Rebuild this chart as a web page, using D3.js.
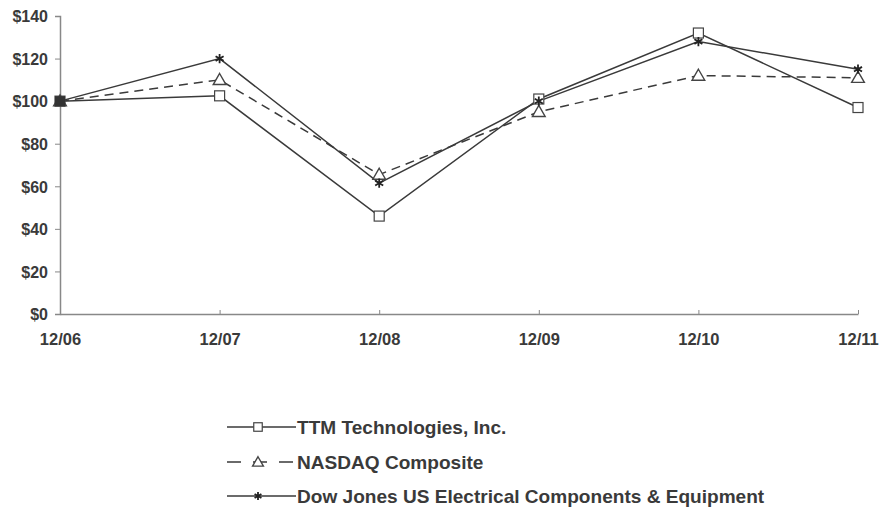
<!DOCTYPE html>
<html>
<head>
<meta charset="utf-8">
<script src="https://cdn.jsdelivr.net/npm/d3@7"></script>
<style>
  body { margin: 0; background: #fff; }
  svg text { font-family: "Liberation Sans", Arial, sans-serif; font-weight: bold; fill: #3a3a3a; }
</style>
</head>
<body>
<svg id="chart" width="881" height="512"></svg>
<script>
// data
const years = ["12/06", "12/07", "12/08", "12/09", "12/10", "12/11"];
const ttm = [100, 102.5, 46, 101, 132, 97];
const nasdaq = [100, 110, 65.5, 95, 112, 111];
const dowJones = [100, 120, 61.5, 100, 128, 115];
const yTicks = [0, 20, 40, 60, 80, 100, 120, 140];

const series = [
  { name: "TTM Technologies, Inc.", values: ttm, dash: null, marker: "square" },
  { name: "NASDAQ Composite", values: nasdaq, dash: "9,6", marker: "triangle" },
  { name: "Dow Jones US Electrical Components & Equipment", values: dowJones, dash: null, marker: "star" }
];

const svg = d3.select("#chart");
const x = d3.scalePoint().domain(years).range([60, 858]);
const y = d3.scaleLinear().domain([0, 140]).range([314, 16]);

// y axis
const yAxis = svg.append("g")
  .attr("transform", "translate(60,0)")
  .call(d3.axisLeft(y).tickValues(yTicks).tickSize(5).tickPadding(7).tickFormat(d => "$" + d));
yAxis.selectAll("text").style("font-size", "16px").attr("dy", "0.36em");
yAxis.select(".domain").attr("stroke", "#888").attr("stroke-width", 1.5);
yAxis.selectAll(".tick line").attr("stroke", "#888");

// x axis with small inward ticks
const xAxis = svg.append("g")
  .attr("transform", "translate(0,314)")
  .call(d3.axisBottom(x).tickSizeInner(-4).tickSizeOuter(0).tickPadding(19));
xAxis.selectAll("text").style("font-size", "16.5px");
xAxis.select(".domain").attr("stroke", "#888").attr("stroke-width", 1.5);
xAxis.selectAll(".tick line").attr("stroke", "#888");
xAxis.select(".tick line").remove();

const line = d3.line().x((d, i) => x(years[i])).y(d => y(d));

function drawMarker(g, type, cx, cy, k = 1) {
  if (type === "square") {
    g.append("rect").attr("x", cx - 5 * k).attr("y", cy - 5 * k).attr("width", 10 * k).attr("height", 10 * k)
      .attr("fill", "#fff").attr("stroke", "#444").attr("stroke-width", 1.2);
  } else if (type === "triangle") {
    g.append("path").attr("d", d3.symbol(d3.symbolTriangle, 70 * k * k)())
      .attr("transform", `translate(${cx},${cy + 1})`)
      .attr("fill", "#fff").attr("stroke", "#444").attr("stroke-width", 1.4);
  } else {
    g.append("path").attr("d", d3.symbol(d3.symbolAsterisk, 60 * k * k)())
      .attr("transform", `translate(${cx},${cy})`)
      .attr("fill", "none").attr("stroke", "#222").attr("stroke-width", 1.8);
  }
}

series.forEach(s => {
  svg.append("path")
    .attr("d", line(s.values))
    .attr("fill", "none")
    .attr("stroke", "#3a3a3a")
    .attr("stroke-width", 1.5)
    .attr("stroke-dasharray", s.dash);
});
series.forEach(s => {
  const g = svg.append("g");
  s.values.forEach((v, i) => drawMarker(g, s.marker, x(years[i]), y(v)));
});
// first point looks filled where all three overlap
svg.append("rect").attr("x", x(years[0]) - 5).attr("y", y(100) - 5)
  .attr("width", 10).attr("height", 10).attr("fill", "#333");

// legend
const legend = svg.append("g");
const legendY = [427, 462, 496];
series.forEach((s, i) => {
  const ly = legendY[i];
  legend.append("line").attr("x1", 227).attr("x2", 296).attr("y1", ly).attr("y2", ly)
    .attr("stroke", "#3a3a3a").attr("stroke-width", 1.5)
    .attr("stroke-dasharray", s.dash ? "14,12" : null);
  drawMarker(legend, s.marker, 258, ly, 0.85);
  legend.append("text")
    .attr("transform", `translate(297,${ly + 7}) scale(1.09,1)`)
    .style("font-size", "17.5px").text(s.name);
});
</script>
</body>
</html>
